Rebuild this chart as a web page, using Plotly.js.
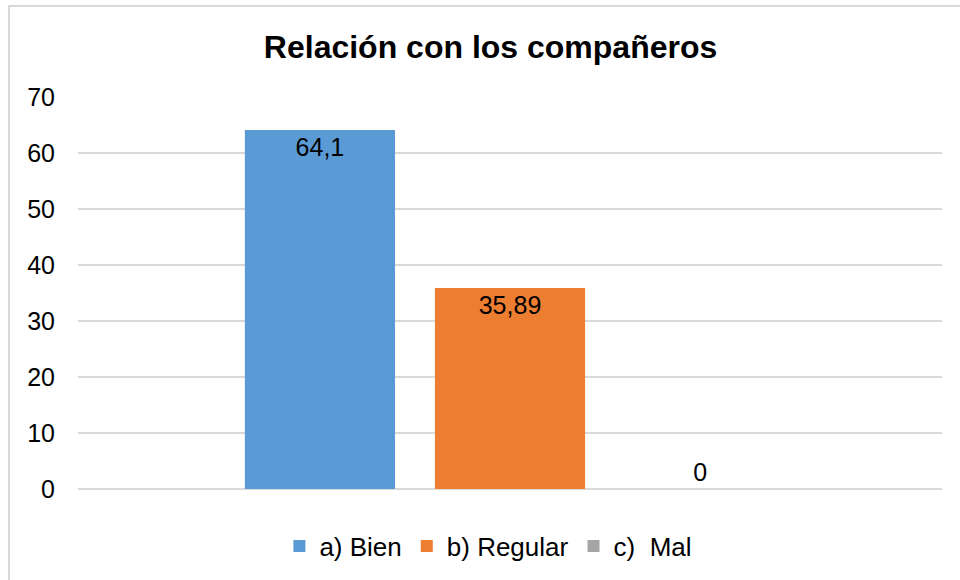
<!DOCTYPE html>
<html>
<head>
<meta charset="utf-8">
<script src="https://cdn.plot.ly/plotly-3.0.1.min.js"></script>
<style>
  html, body { margin: 0; padding: 0; background: #ffffff; }
  #frame { position: absolute; left: 8px; top: 5px; width: 1000px; height: 1000px; border: 2px solid #d9d9d9; box-sizing: border-box; }
  #chart { position: absolute; left: 0; top: 0; width: 960px; height: 580px; }
</style>
</head>
<body>
<div id="frame"></div>
<div id="chart"></div>
<script>
// Data
const categories = [""];
const seriesNames = ["a) Bien", "b) Regular", "c)  Mal"];
const bienValues = [64.1];
const regularValues = [35.89];
const malValues = [0];
const yTickValues = [0, 10, 20, 30, 40, 50, 60, 70];
const chartTitle = "Relación con los compañeros";

const colors = ["#5B9BD5", "#ED7D31", "#A5A5A5"];
const fontFamily = "Liberation Sans, Arial, sans-serif";

function fmt(v) { return String(v).replace('.', ','); }

const allValues = [bienValues, regularValues, malValues];
const positions = ["inside", "inside", "outside"];

const traces = allValues.map((vals, i) => ({
  type: "bar",
  x: categories,
  y: vals,
  name: seriesNames[i],
  marker: { color: colors[i] },
  text: vals.map(fmt),
  textposition: positions[i],
  insidetextanchor: "end",
  textangle: 0,
  cliponaxis: false,
  textfont: { family: fontFamily, size: 25, color: "#000000" },
  insidetextfont: { family: fontFamily, size: 25, color: "#000000" },
  outsidetextfont: { family: fontFamily, size: 25, color: "#000000" },
  hoverinfo: "none"
}));

const layout = {
  width: 960,
  height: 580,
  paper_bgcolor: "rgba(0,0,0,0)",
  plot_bgcolor: "rgba(0,0,0,0)",
  margin: { l: 78, r: 18, t: 97, b: 91 },
  font: { family: fontFamily, color: "#000000" },
  title: {
    text: "<b>" + chartTitle + "</b>",
    font: { family: fontFamily, size: 32, color: "#000000" },
    x: 0.511, xref: "container", xanchor: "center",
    y: 1 - 47 / 580, yref: "container", yanchor: "middle"
  },
  barmode: "group",
  bargap: 0.34,
  bargroupgap: 0.21,
  xaxis: {
    showticklabels: false,
    showgrid: false,
    zeroline: false,
    showline: false,
    ticks: ""
  },
  yaxis: {
    range: [0, 70],
    tickvals: yTickValues,
    ticktext: yTickValues.map(String),
    showgrid: true,
    gridcolor: "#d9d9d9",
    gridwidth: 1.3,
    zeroline: true,
    zerolinecolor: "#d9d9d9",
    zerolinewidth: 1.3,
    showline: false,
    ticks: "",
    ticklabelstandoff: 22,
    tickfont: { family: fontFamily, size: 25, color: "#000000" }
  },
  showlegend: true,
  legend: {
    orientation: "h",
    x: 0.475, xanchor: "center",
    y: 1 - 546 / 580, yref: "container", yanchor: "middle",
    font: { family: fontFamily, size: 26, color: "#000000" },
    itemwidth: 30,
    bgcolor: "rgba(0,0,0,0)"
  }
};

Plotly.newPlot("chart", traces, layout, { displayModeBar: false, staticPlot: true });
</script>
</body>
</html>
